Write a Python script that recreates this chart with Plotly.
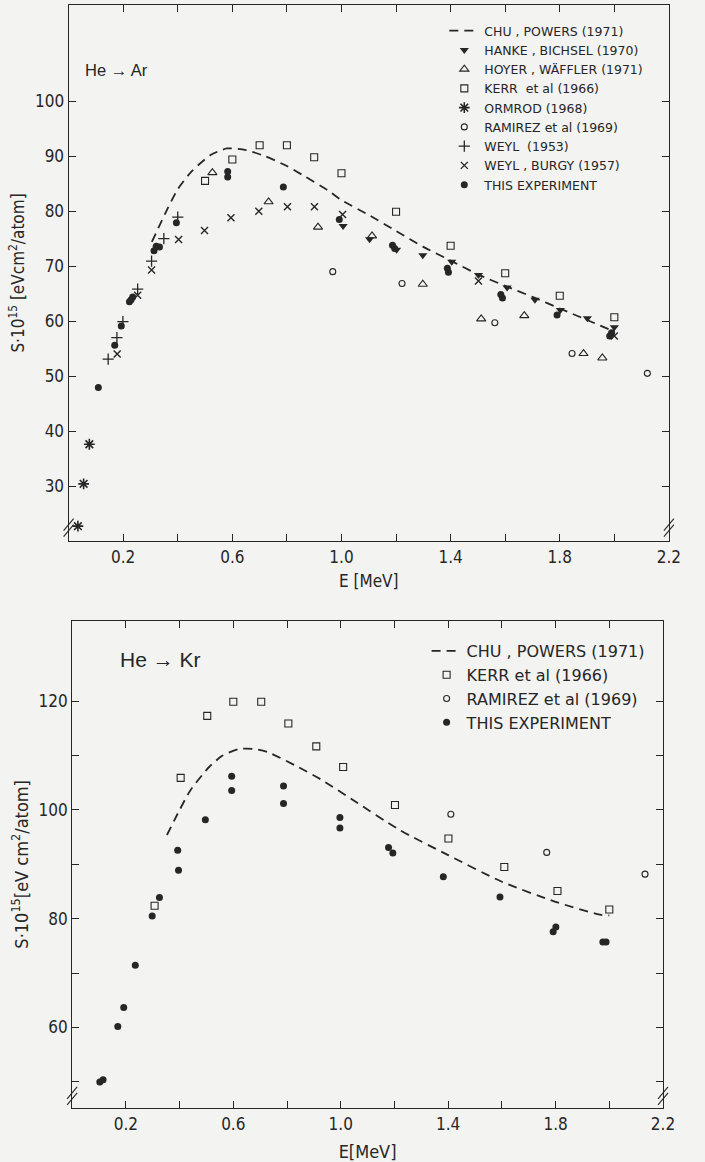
import plotly.graph_objects as go

# ---------------- He -> Ar (top panel) ----------------
chu_ar_E = [0.305, 0.36, 0.40, 0.45, 0.52, 0.58, 0.65, 0.72, 0.80, 0.87, 0.95, 1.00, 1.10, 1.20, 1.30, 1.40, 1.50, 1.60, 1.70, 1.80, 1.90, 2.00]
chu_ar_S = [74.4, 80.2, 84.0, 87.2, 90.2, 91.4, 91.1, 90.0, 88.2, 86.2, 83.8, 82.0, 79.3, 76.4, 73.5, 71.0, 68.5, 66.4, 64.4, 62.3, 60.2, 58.1]

hanke_E = [1.006, 1.103, 1.202, 1.298, 1.404, 1.502, 1.607, 1.709, 1.802, 1.901, 2.0]
hanke_S = [77.3, 74.9, 73.0, 72.0, 70.8, 68.4, 66.1, 63.9, 62.0, 60.5, 58.9]

hoyer_E = [0.527, 0.733, 0.914, 1.112, 1.298, 1.512, 1.670, 1.887, 1.956]
hoyer_S = [87.0, 81.7, 77.1, 75.5, 66.7, 60.4, 61.0, 54.1, 53.3]

kerr_ar_E = [0.50, 0.60, 0.70, 0.80, 0.90, 1.00, 1.20, 1.40, 1.60, 1.80, 2.00]
kerr_ar_S = [85.5, 89.4, 92.0, 92.0, 89.8, 86.9, 79.9, 73.7, 68.7, 64.6, 60.7]

ormrod_E = [0.034, 0.055, 0.076]
ormrod_S = [22.7, 30.4, 37.6]

ramirez_ar_E = [0.968, 1.222, 1.562, 1.845, 2.121]
ramirez_ar_S = [69.0, 66.85, 59.7, 54.1, 50.5]

weyl_E = [0.145, 0.177, 0.199, 0.253, 0.304, 0.349, 0.400]
weyl_S = [53.1, 57.0, 59.9, 65.8, 70.9, 75.0, 78.9]

weylb_E = [0.178, 0.253, 0.304, 0.403, 0.498, 0.595, 0.697, 0.802, 0.901, 1.004, 1.502, 2.0]
weylb_S = [54.0, 64.7, 69.3, 74.85, 76.5, 78.8, 80.0, 80.8, 80.8, 79.4, 67.3, 57.3]

exp_ar_E = [0.109, 0.169, 0.193, 0.223, 0.229, 0.235, 0.313, 0.321, 0.333, 0.395, 0.583, 0.583, 0.787, 0.992, 1.187, 1.195, 1.388, 1.392, 1.584, 1.590, 1.79, 1.983, 1.99]
exp_ar_S = [47.9, 55.6, 59.1, 63.5, 63.9, 64.4, 72.8, 73.6, 73.5, 77.9, 87.2, 86.2, 84.4, 78.5, 73.8, 73.2, 69.6, 68.9, 64.85, 64.2, 61.1, 57.3, 57.9]

# ---------------- He -> Kr (bottom panel) ----------------
chu_kr_E = [0.353, 0.40, 0.44, 0.51, 0.56, 0.62, 0.68, 0.73, 0.83, 0.93, 1.04, 1.22, 1.40, 1.60, 1.80, 1.97, 2.0]
chu_kr_S = [95.4, 100.0, 103.6, 107.9, 110.0, 111.2, 111.2, 110.6, 108.2, 105.5, 102.0, 96.3, 91.7, 86.8, 83.1, 80.7, 80.6]

kerr_kr_E = [0.307, 0.404, 0.503, 0.600, 0.704, 0.805, 0.909, 1.009, 1.202, 1.401, 1.609, 1.807, 2.0]
kerr_kr_S = [82.4, 105.9, 117.3, 119.9, 119.9, 115.9, 111.7, 107.9, 100.9, 94.75, 89.5, 85.1, 81.7]

ramirez_kr_E = [1.41, 1.767, 2.133]
ramirez_kr_S = [99.2, 92.2, 88.2]

exp_kr_E = [0.103, 0.115, 0.17, 0.192, 0.235, 0.298, 0.325, 0.393, 0.396, 0.496, 0.594, 0.594, 0.787, 0.787, 0.997, 0.997, 1.178, 1.194, 1.382, 1.593, 1.791, 1.801, 1.976, 1.988]
exp_kr_S = [50.0, 50.4, 60.2, 63.7, 71.45, 80.5, 83.9, 92.6, 88.9, 98.2, 106.2, 103.6, 104.4, 101.2, 98.6, 96.7, 93.1, 92.1, 87.7, 84.0, 77.6, 78.5, 75.7, 75.7]

# ---------------- ticks ----------------
x_tickvals = [0.2, 0.6, 1.0, 1.4, 1.8, 2.2]
x_ticktext = ["0.2", "0.6", "1.0", "1.4", "1.8", "2.2"]
x_minorvals = [0.4, 0.8, 1.2, 1.6, 2.0]
ar_tickvals = [30, 40, 50, 60, 70, 80, 90, 100]
ar_ticktext = ["30", "40", "50", "60", "70", "80", "90", "100"]
kr_tickvals = [60, 80, 100, 120]
kr_ticktext = ["60", "80", "100", "120"]
kr_minorvals = [50, 70, 90, 110]

INK = "#262626"
BG = "#f3f3f2"
W, H = 705, 1162
NARROW = "Liberation Sans Narrow, DejaVu Sans Condensed, Arial Narrow, Liberation Sans, sans-serif"
SANS = "Liberation Sans, Arial, sans-serif"
WIDE = "DejaVu Sans, Verdana, sans-serif"

fig = go.Figure()

def add(E, S, name, xa, ya, legend, mode="markers", symbol="circle", size=7, lw=1.3):
    kw = dict(x=E, y=S, name=name, xaxis=xa, yaxis=ya, legend=legend, mode=mode, showlegend=True)
    if mode == "lines":
        kw["line"] = dict(color=INK, width=1.8, dash="9px,6px", shape="spline", smoothing=0.6)
    else:
        kw["marker"] = dict(symbol=symbol, size=size, color=INK, line=dict(color=INK, width=lw))
    fig.add_trace(go.Scatter(**kw))

# top panel
add(chu_ar_E, chu_ar_S, "CHU , POWERS (1971)", "x", "y", "legend", mode="lines")
add(hanke_E, hanke_S, "HANKE , BICHSEL (1970)", "x", "y", "legend", symbol="triangle-down", size=8, lw=0)
add(hoyer_E, hoyer_S, "HOYER , WÄFFLER (1971)", "x", "y", "legend", symbol="triangle-up-open", size=8, lw=1.1)
add(kerr_ar_E, kerr_ar_S, "KERR  et al (1966)", "x", "y", "legend", symbol="square-open", size=7, lw=1.1)
add(ormrod_E, ormrod_S, "ORMROD (1968)", "x", "y", "legend", symbol="asterisk-open", size=9, lw=1.6)
add(ramirez_ar_E, ramirez_ar_S, "RAMIREZ et al (1969)", "x", "y", "legend", symbol="circle-open", size=6, lw=1.1)
add(weyl_E, weyl_S, "WEYL  (1953)", "x", "y", "legend", symbol="cross-thin-open", size=8, lw=1.3)
add(weylb_E, weylb_S, "WEYL , BURGY (1957)", "x", "y", "legend", symbol="x-thin-open", size=7, lw=1.4)
add(exp_ar_E, exp_ar_S, "THIS EXPERIMENT", "x", "y", "legend", symbol="circle", size=7, lw=0)

# bottom panel
add(chu_kr_E, chu_kr_S, "CHU , POWERS (1971)", "x2", "y2", "legend2", mode="lines")
add(kerr_kr_E, kerr_kr_S, "KERR et al (1966)", "x2", "y2", "legend2", symbol="square-open", size=7, lw=1.1)
add(ramirez_kr_E, ramirez_kr_S, "RAMIREZ et al (1969)", "x2", "y2", "legend2", symbol="circle-open", size=6, lw=1.1)
add(exp_kr_E, exp_kr_S, "THIS EXPERIMENT", "x2", "y2", "legend2", symbol="circle", size=7, lw=0)

axis_common = dict(showgrid=False, zeroline=False, showline=True, linecolor=INK, linewidth=1.2,
                   mirror="ticks", ticks="inside", ticklen=7, tickwidth=1.2, tickcolor=INK,
                   tickfont=dict(family=NARROW, size=17, color=INK))
minor_common = dict(ticks="inside", ticklen=7, tickwidth=1.2, tickcolor=INK, showgrid=False)

def px_x(p):
    return p / W

def px_y(p):
    return 1 - p / H

fig.update_layout(
    width=W, height=H,
    margin=dict(l=0, r=0, t=0, b=0),
    paper_bgcolor=BG, plot_bgcolor=BG,
    font=dict(family=SANS, color=INK),
    xaxis=dict(axis_common, domain=[px_x(69.8), px_x(680.5)], range=[0, 2.2], anchor="y",
               tickmode="array", tickvals=x_tickvals, ticktext=x_ticktext,
               minor=dict(minor_common, tickvals=x_minorvals),
               title=dict(text="E [MeV]", font=dict(family=NARROW, size=17, color=INK), standoff=9)),
    yaxis=dict(axis_common, domain=[px_y(541), px_y(5)], range=[20, 117.5], anchor="x",
               tickmode="array", tickvals=ar_tickvals, ticktext=ar_ticktext,
               title=dict(text="S·10<sup>15</sup> [eVcm<sup>2</sup>/atom]", font=dict(family=NARROW, size=17, color=INK), standoff=5)),
    xaxis2=dict(axis_common, domain=[px_x(73.4), px_x(674.5)], range=[0, 2.2], anchor="y2",
                tickmode="array", tickvals=x_tickvals, ticktext=x_ticktext,
                minor=dict(minor_common, tickvals=x_minorvals),
                title=dict(text="E[MeV]", font=dict(family=NARROW, size=18, color=INK), standoff=12)),
    yaxis2=dict(axis_common, domain=[px_y(1108), px_y(620.7)], range=[45.2, 134.8], anchor="x2",
                tickmode="array", tickvals=kr_tickvals, ticktext=kr_ticktext,
                minor=dict(minor_common, tickvals=kr_minorvals),
                title=dict(text="S·10<sup>15</sup>[eV cm<sup>2</sup>/atom]", font=dict(family=NARROW, size=18, color=INK), standoff=5)),
    legend=dict(x=px_x(452), y=px_y(16), xanchor="left", yanchor="top", bgcolor="rgba(0,0,0,0)",
                font=dict(family=WIDE, size=12.5, color=INK), tracegroupgap=0, itemwidth=30),
    legend2=dict(x=px_x(434), y=px_y(634), xanchor="left", yanchor="top", bgcolor="rgba(0,0,0,0)",
                 font=dict(family=WIDE, size=16, color=INK), tracegroupgap=0, itemwidth=30),
    annotations=[
        dict(text="He → Ar", x=px_x(84), y=px_y(70), xref="paper", yref="paper", xanchor="left", yanchor="middle",
             showarrow=False, font=dict(family=SANS, size=16.5, color=INK)),
        dict(text="He → Kr", x=px_x(120), y=px_y(659), xref="paper", yref="paper", xanchor="left", yanchor="middle",
             showarrow=False, font=dict(family=SANS, size=21, color=INK)),
    ],
)

# axis-break marks "//" near the bottom of each vertical axis
shapes = []
for xa, ya in (("x", "y"), ("x2", "y2")):
    for xanchor in (0, 1):
        for dy in (-3, 3):
            shapes.append(dict(type="line", xref=f"{xa} domain", yref=f"{ya} domain",
                               xsizemode="pixel", ysizemode="pixel", xanchor=xanchor, yanchor=0.025,
                               x0=-5, x1=5, y0=-6 + dy, y1=6 + dy,
                               line=dict(color=INK, width=1.1)))
fig.update_layout(shapes=shapes)

fig.write_html("out.html")
